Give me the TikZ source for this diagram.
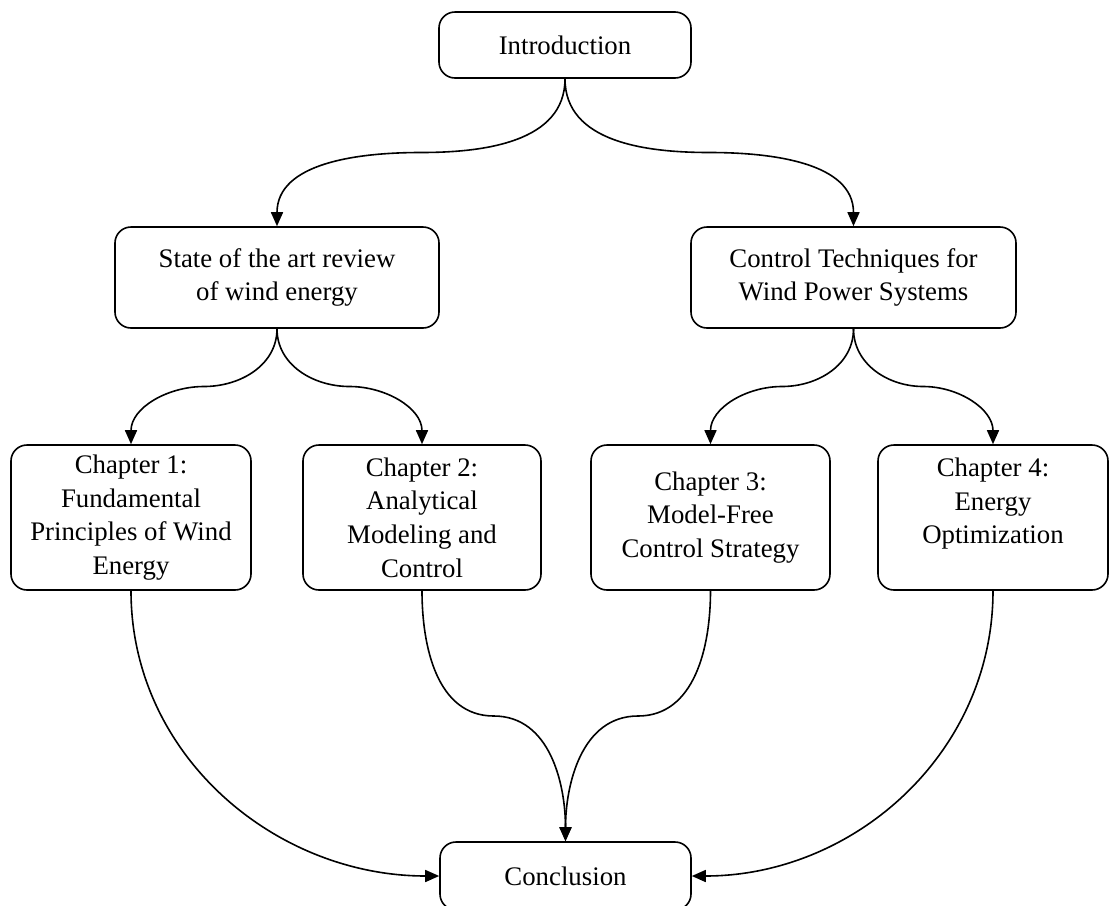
\documentclass[tikz,border=0pt]{standalone}
\usepackage{fontspec}
\setmainfont{Liberation Serif}
\usetikzlibrary{arrows.meta,calc}

\tikzset{
  box/.style={draw, rounded corners=8pt, line width=0.8pt, align=center,
    inner sep=0pt, font=\fontsize{13.4}{16.8}\selectfont},
  flow/.style={-{Triangle[length=7pt,width=6pt]}, line width=0.8pt},
}

\begin{document}
\begin{tikzpicture}[x=0.5pt, y=0.5pt]
    \useasboundingbox (0,0) rectangle (1110,-906);

    % boxes
    \node[box, minimum width=126pt, minimum height=33pt] (intro) at (565,-45) {Introduction};
    \node[box, minimum width=162pt, minimum height=50.5pt] (review) at (277,-277.5) {State of the art review\\of wind energy};
    \node[box, minimum width=162.5pt, minimum height=50.5pt] (control) at (853.5,-277.5) {Control Techniques for\\Wind Power Systems};
    \node[box, minimum width=120pt, minimum height=72.5pt] (chap1) at (131,-517.5) {Chapter 1:\\Fundamental\\Principles of Wind\\Energy};
    \node[box, minimum width=119pt, minimum height=72.5pt] (chap2) at (422,-517.5) {Chapter 2:\\Analytical\\Modeling and\\Control};
    \node[box, minimum width=119.5pt, minimum height=72.5pt] (chap3) at (710.5,-517.5) {Chapter 3:\\Model-Free\\Control Strategy};
    \node[box, minimum width=115pt, minimum height=72.5pt] (chap4) at (993,-517.5) {Chapter 4:\\Energy\\Optimization\\\mbox{}};
    \node[box, minimum width=125.5pt, minimum height=34pt] (concl) at (565.5,-876) {Conclusion};

    % splits
    \draw[flow] (intro.south) to[out=-90,in=0] ($(intro.south)!.5!(review.north)$) to[out=180,in=90] (review.north);
    \draw[flow] (intro.south) to[out=-90,in=180] ($(intro.south)!.5!(control.north)$) to[out=0,in=90] (control.north);
    \draw[flow] (review.south) to[out=-90,in=0] ($(review.south)!.5!(chap1.north)$) to[out=180,in=90] (chap1.north);
    \draw[flow] (review.south) to[out=-90,in=180] ($(review.south)!.5!(chap2.north)$) to[out=0,in=90] (chap2.north);
    \draw[flow] (control.south) to[out=-90,in=0] ($(control.south)!.5!(chap3.north)$) to[out=180,in=90] (chap3.north);
    \draw[flow] (control.south) to[out=-90,in=180] ($(control.south)!.5!(chap4.north)$) to[out=0,in=90] (chap4.north);

    % merges
    \draw[flow] (chap2.south) to[out=-90,in=180] ($(chap2.south)!.5!(concl.north)$) to[out=0,in=90] (concl.north);
    \draw[flow] (chap3.south) to[out=-90,in=0] ($(chap3.south)!.5!(concl.north)$) to[out=180,in=90] (concl.north);
    \draw[flow] (chap1.south) to[out=-90,in=180] (concl.west);
    \draw[flow] (chap4.south) to[out=-90,in=0] (concl.east);
\end{tikzpicture}
\end{document}
